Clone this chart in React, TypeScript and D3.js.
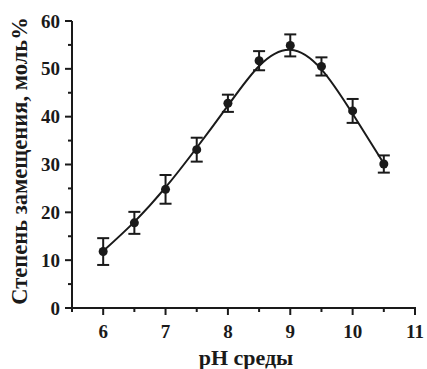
import React from "react";
import * as d3 from "d3";

const phValues = [6, 6.5, 7, 7.5, 8, 8.5, 9, 9.5, 10, 10.5];
const degreeValues = [11.8, 17.8, 24.8, 33.1, 42.8, 51.7, 54.9, 50.5, 41.2, 30.1];
const errorValues = [2.8, 2.3, 3.0, 2.5, 1.8, 2.0, 2.3, 1.9, 2.5, 1.8];
const fitValues = [11.9, 18.0, 25.2, 33.5, 42.3, 50.6, 54.0, 49.9, 40.6, 30.2];
const xTicks = [6, 7, 8, 9, 10, 11];
const xMinorTicks = [5.5, 6.5, 7.5, 8.5, 9.5, 10.5];
const yTicks = [0, 10, 20, 30, 40, 50, 60];
const yMinorTicks = [5, 15, 25, 35, 45, 55];

const W = 427;
const H = 369;
const font = "Liberation Serif, DejaVu Serif, serif";
const ink = "#1a1a1a";

export default function App() {
  const x = d3.scaleLinear().domain([5.5, 11]).range([72, 415]);
  const y = d3.scaleLinear().domain([0, 60]).range([308, 21]);
  const fitLine = d3
    .line<number>()
    .x((_, i) => x(phValues[i]))
    .y((d) => y(d))
    .curve(d3.curveNatural);

  return (
    <svg width={W} height={H} style={{ position: "absolute", left: 0, top: 0, background: "#fff" }}>
      <line x1={x(5.5)} x2={x(11) + 1} y1={y(0)} y2={y(0)} stroke={ink} strokeWidth={2} />
      <line x1={x(5.5)} x2={x(5.5)} y1={y(0) + 1} y2={y(60)} stroke={ink} strokeWidth={2} />
      {yTicks.map((t) => (
        <g key={"y" + t}>
          <line x1={x(5.5) - 7} x2={x(5.5)} y1={y(t)} y2={y(t)} stroke={ink} strokeWidth={2} />
          <text x={60} y={y(t) + 6.5} textAnchor="end" style={{ fontFamily: font }} fontWeight="bold" fontSize={19} fill={ink}>
            {t}
          </text>
        </g>
      ))}
      {yMinorTicks.map((t) => (
        <line key={"ym" + t} x1={x(5.5) - 4} x2={x(5.5)} y1={y(t)} y2={y(t)} stroke={ink} strokeWidth={2} />
      ))}
      {xTicks.map((t) => (
        <g key={"x" + t}>
          <line x1={x(t)} x2={x(t)} y1={y(0)} y2={y(0) + 7} stroke={ink} strokeWidth={2} />
          <text x={x(t)} y={338} textAnchor="middle" style={{ fontFamily: font }} fontWeight="bold" fontSize={19} fill={ink}>
            {t}
          </text>
        </g>
      ))}
      {xMinorTicks.map((t) => (
        <line key={"xm" + t} x1={x(t)} x2={x(t)} y1={y(0)} y2={y(0) + 4} stroke={ink} strokeWidth={2} />
      ))}
      <path d={fitLine(fitValues) || ""} fill="none" stroke={ink} strokeWidth={2} />
      {phValues.map((p, i) => {
        const cx = x(p);
        const top = y(degreeValues[i] + errorValues[i]);
        const bot = y(degreeValues[i] - errorValues[i]);
        return (
          <g key={"p" + i}>
            <line x1={cx} x2={cx} y1={top} y2={bot} stroke={ink} strokeWidth={2} />
            <line x1={cx - 6} x2={cx + 6} y1={top} y2={top} stroke={ink} strokeWidth={2} />
            <line x1={cx - 6} x2={cx + 6} y1={bot} y2={bot} stroke={ink} strokeWidth={2} />
            <circle cx={cx} cy={y(degreeValues[i])} r={4.5} fill={ink} />
          </g>
        );
      })}
      <text x={246} y={365} textAnchor="middle" style={{ fontFamily: font }} fontWeight="bold" fontSize={22} fill={ink}>
        pH среды
      </text>
      <text
        transform={`translate(27, 161) rotate(-90)`}
        textAnchor="middle"
        style={{ fontFamily: font }}
        fontWeight="bold"
        fontSize={22.5}
        fill={ink}
      >
        Степень замещения, моль%
      </text>
    </svg>
  );
}
